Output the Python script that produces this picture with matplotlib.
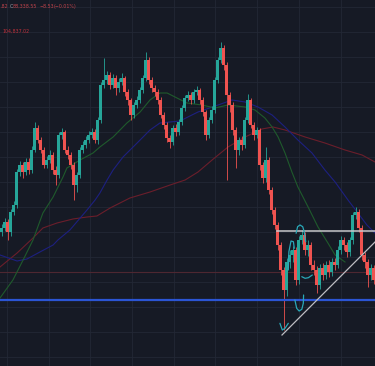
import matplotlib
matplotlib.use("Agg")
import matplotlib.pyplot as plt
import numpy as np

# daily candles (open = previous close)
first_open = 96020
close = [96660, 97620, 96020, 99220, 100340, 105620, 106740, 105620, 107220, 105940,
         109140, 112660, 110740, 109140, 106740, 107540, 108340, 105940, 105140, 111540,
         112020, 109140, 108340, 106740, 103540, 105140, 109140, 109940, 110740, 111540,
         112020, 110740, 113940, 119540, 120340, 121140, 119540, 120660, 119060, 120020,
         120660, 118420, 117140, 114740, 116340, 117140, 118740, 120660, 123540, 120340,
         119060, 118420, 117140, 114740, 113140, 111060, 110420, 112660, 112020, 113620,
         115860, 117460, 117940, 117140, 118420, 118740, 117140, 115220, 111540, 113940,
         115540, 120340, 123540, 125460, 122740, 117940, 116340, 112340, 109140, 110740,
         109940, 113940, 117140, 113140, 111540, 112340, 106740, 104660, 107540, 102740,
         99540, 97140, 93940, 89940, 86740, 91220, 92340, 93140, 88340, 94740,
         95540, 93140, 93940, 90740, 89940, 87540, 90260, 89140, 90740, 89620,
         91220, 90740, 93140, 94740, 93940, 92820, 94740, 98740, 99220, 96660,
         92340, 91220, 89140, 90260, 88338.55]
high = [97300, 98260, 98100, 99700, 100980, 106100, 107380, 107220, 107860, 107860,
        109780, 113620, 113140, 111220, 109620, 108180, 109140, 108820, 106580, 112020,
        112660, 112340, 109780, 108820, 107220, 105620, 109620, 110580, 111380, 112180,
        112660, 112500, 114420, 120020, 123860, 121780, 121620, 121300, 121140, 120660,
        121460, 120980, 118900, 117460, 116820, 117780, 119220, 121140, 124820, 124020,
        120820, 119540, 118900, 117620, 115220, 113620, 111540, 113140, 113300, 114100,
        116340, 117940, 118580, 118420, 118900, 119380, 119060, 117620, 115540, 114420,
        116180, 120820, 124020, 126420, 125940, 123220, 118420, 116820, 112820, 111220,
        111380, 114420, 118100, 117460, 113620, 112820, 112660, 107220, 109620, 108020,
        103220, 100020, 97620, 94420, 90420, 91860, 93140, 93780, 93620, 95380,
        96340, 96020, 94740, 94420, 91540, 90580, 90900, 91060, 91380, 91540,
        91860, 91860, 93780, 95380, 95220, 94420, 95220, 99220, 100020, 99700,
        97140, 92820, 91700, 90900, 90740]
low = [95380, 96180, 94740, 95380, 98740, 99860, 104980, 104660, 105140, 105300,
       105460, 108820, 110260, 108660, 106260, 106260, 107060, 105300, 103540, 104660,
       110900, 108660, 107700, 106100, 101140, 102420, 104660, 108660, 109460, 110260,
       111060, 110260, 110100, 113460, 119060, 119700, 118900, 119060, 117940, 118420,
       119540, 117780, 116340, 113940, 114260, 115860, 116660, 118260, 120180, 119700,
       118420, 117780, 116500, 114260, 112500, 110420, 109460, 109940, 111380, 111540,
       113140, 115380, 116980, 116500, 116660, 117940, 116500, 114580, 110740, 111060,
       113460, 115060, 119860, 123060, 121940, 104340, 115220, 111540, 106260, 108340,
       109140, 109460, 113460, 112660, 110740, 111060, 105940, 103860, 104020, 102100,
       98900, 96500, 93140, 89140, 80340, 85780, 90260, 91220, 87540, 87700,
       94100, 92340, 92180, 89940, 89140, 86260, 86900, 88340, 88500, 88820,
       88980, 89940, 90260, 92500, 93140, 92020, 92180, 94100, 98100, 96020,
       91540, 90260, 87220, 88340, 87700]

# moving averages (bar index, price)
ma_fast_x = [-0.5, 3.8, 7.2, 10.5, 13.8, 17.2, 20.5, 21.8, 26.2, 30.5, 32.8, 37.2, 41.8, 46.2,
             49.5, 52.8, 55.2, 58.5, 61.8, 66.8, 71.2, 75.5, 81.2, 84.5, 87.8, 90.2, 92.2,
             94.5, 96.8, 98.8, 102.2, 105.5, 108.8, 111.2, 114.5]
ma_fast_y = [85460, 88340, 91540, 94740, 99060, 101620, 104820, 106260, 107540, 108660, 109620,
             111220, 113460, 115220, 117140, 118260, 118260, 117460, 116660, 116340, 115860,
             116340, 116020, 115540, 114260, 112820, 111220, 108660, 105620, 103220, 100020,
             96820, 94260, 92340, 91220]
ma_mid_x = [-0.5, 5.2, 8.5, 12.8, 17.2, 18.8, 22.8, 28.5, 31.2, 32.8, 35.2, 37.2, 40.5, 45.2,
            49.5, 52.8, 59.5, 62.8, 65.5, 72.2, 76.8, 81.2, 85.5, 90.2, 94.5, 98.8, 103.5,
            107.8, 111.2, 115.5, 118.8, 121.8, 124.5]
ma_mid_y = [92340, 91380, 91700, 92820, 93940, 94740, 96340, 99540, 101140, 102260, 104340,
            105940, 108020, 110260, 112340, 113460, 113780, 114580, 115220, 116340, 117140,
            116820, 116020, 114740, 112820, 110740, 108660, 105940, 104020, 101140, 99060,
            97140, 95860]
ma_slow_x = [-0.5, 5.2, 10.5, 13.8, 18.5, 23.8, 28.5, 31.8, 36.2, 42.8, 49.5, 56.2, 61.2, 65.5,
             70.2, 75.5, 81.2, 86.8, 90.5, 94.5, 101.2, 107.8, 114.5, 120.2, 124.5]
ma_slow_y = [90420, 92660, 95060, 96660, 97460, 98100, 98420, 98580, 99860, 101460, 102420,
             103540, 104340, 105620, 107540, 109620, 111220, 112500, 112820, 112340, 111220,
             110260, 109140, 108340, 107220]

# drawings
support_level = 85140
faint_level = 89620
resistance_level = 96180
resistance_x = [91.8, 124.5]
trend_x = [93.5, 124.5]
trend_y = [79540, 94420]
scribbles = [
    ([92.8, 93.6, 94.5, 95.6], [81410, 80340, 80610, 81410]),
    ([95.6, 95.8, 96.5, 97.3, 97.6], [89940, 92870, 94580, 94470, 93410]),
    ([98.2, 98.7, 99.5, 100.4, 100.9, 101.4], [95810, 96870, 97140, 96870, 96070, 94470]),
    ([97.8, 98.4, 99.2, 100.1, 100.6, 100.7], [85140, 83810, 83380, 83650, 84610, 85940]),
    ([100.1, 101.2, 102.3, 103.6], [88870, 88610, 88710, 89140]),
]

BG = "#161a25"
UP = "#26a69a"
DOWN = "#ef5350"

fig = plt.figure(figsize=(3.75, 3.66), dpi=100, facecolor=BG)
ax = fig.add_axes([0, 0, 1, 1])
ax.set_facecolor(BG)
ax.set_xlim(-0.5, 124.5)
ax.set_ylim(74580, 133140)
for s in ax.spines.values():
    s.set_visible(False)
ax.set_xticks(np.arange(1.8, 125, 13.9))
ax.set_yticks(np.arange(76000, 133000, 4000))
ax.tick_params(length=0, labelbottom=False, labelleft=False)
ax.grid(True, color="#232835", lw=0.6)
ax.set_axisbelow(True)

close = np.array(close)
opens = np.r_[first_open, close[:-1]]
idx = np.arange(len(close))
up = close >= opens
colors = np.where(up, UP, DOWN)

ax.plot(ma_slow_x, ma_slow_y, color="#6b1e2b", lw=0.8, zorder=2)
ax.plot(ma_mid_x, ma_mid_y, color="#1d2080", lw=0.8, zorder=2)
ax.plot(ma_fast_x, ma_fast_y, color="#1f5a2c", lw=0.8, zorder=2)
ax.axhline(faint_level, color="#4e2731", lw=0.8, zorder=1)

ax.vlines(idx, low, high, colors=colors, lw=0.6, zorder=3)
ax.bar(idx, np.abs(close - opens) + 60, bottom=np.minimum(opens, close), width=0.7,
       color=colors, linewidth=0, zorder=4)

ax.axhline(support_level, color="#2b55d4", lw=1.6, zorder=5)
ax.plot(resistance_x, [resistance_level] * 2, color="#c8c8cc", lw=1.1, zorder=5)
ax.plot(trend_x, trend_y, color="#bdbdc2", lw=0.9, zorder=5)
for sx, sy in scribbles:
    ax.plot(sx, sy, color="#29a8b8", lw=0.9, zorder=6, solid_capstyle="round")

# legend row
red_txt = "#c0424a"
fs = 3.4
fig.text(0 / 375, 1 - 6.5 / 366, ".82", color=red_txt, fontsize=fs, va="center")
fig.text(10 / 375, 1 - 6.5 / 366, "C", color="#9ba0aa", fontsize=fs, va="center")
fig.text(12.5 / 375, 1 - 6.5 / 366, "88,338.55", color=red_txt, fontsize=fs, va="center")
fig.text(39 / 375, 1 - 6.5 / 366, "\u22128.53", color=red_txt, fontsize=fs, va="center")
fig.text(54 / 375, 1 - 6.5 / 366, "(\u22120.01%)", color=red_txt, fontsize=fs, va="center")
fig.text(2 / 375, 1 - 31 / 366, "104,837.02", color="#c0303a", fontsize=fs, va="center")

fig.savefig("out.png", dpi=100, facecolor=BG)
